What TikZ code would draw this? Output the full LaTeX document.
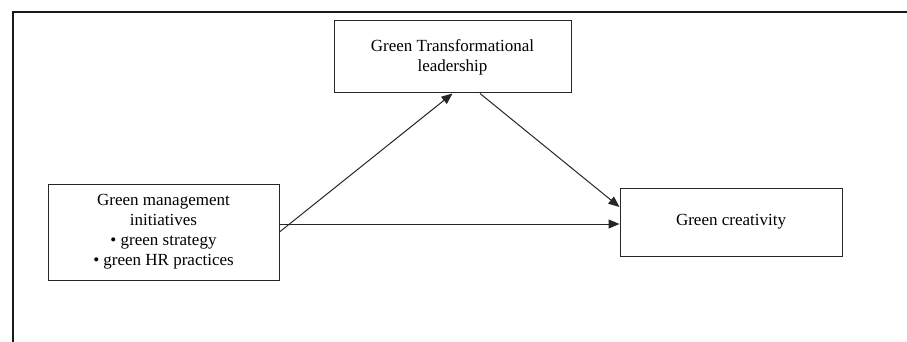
\documentclass[tikz,border=0pt]{standalone}
\usepackage{fontspec}
\setmainfont{Liberation Serif}
\usetikzlibrary{arrows.meta}
\begin{document}
\begin{tikzpicture}[x=1pt,y=-1pt,
  box/.style={draw=black!85, line width=1pt, fill=white, align=center,
    font=\fontsize{17}{20}\selectfont, inner sep=0pt},
  arr/.style={draw=black!85, line width=1pt, -{Triangle[length=11pt,width=9pt]}},
  frame/.style={line width=2pt, black!90}]
  \useasboundingbox (0,0) rectangle (907,342);
  % open frame: top and left rules
  \draw[frame] (13,342) -- (13,12) -- (907,12);
  % boxes
  \node[box, minimum width=231pt, minimum height=96pt] (L) at (163.5,232)
    {Green management\\initiatives\\• green strategy\\• green HR practices};
  \node[box, minimum width=237pt, minimum height=72pt] (T) at (452.5,57)
    {Green Transformational\\leadership};
  \node[box, minimum width=222pt, minimum height=68pt] (R) at (731,222)
    {Green creativity};
  % paths
  \draw[arr] (L.east) -- (T.south);
  \draw[arr] ([xshift=27.5pt]T.south) -- ([yshift=15pt]R.west);
  \draw[arr] ([yshift=8pt]L.east) -- ([yshift=-2pt]R.west);
\end{tikzpicture}
\end{document}
